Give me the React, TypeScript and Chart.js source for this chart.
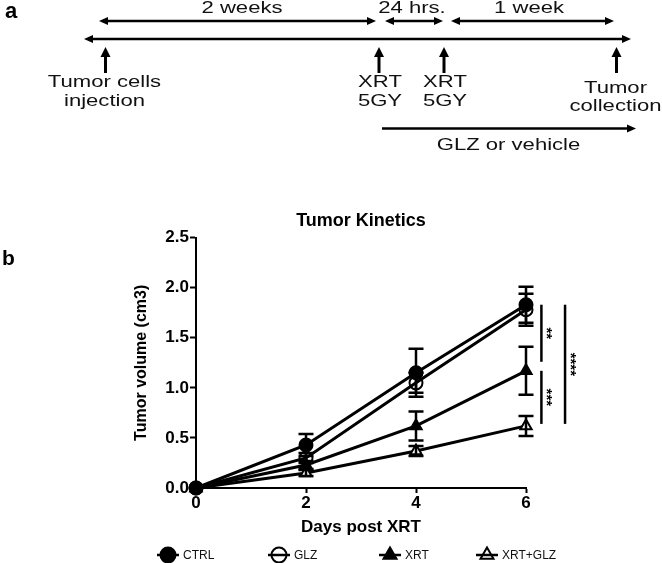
import React, { useEffect, useRef } from 'react';
import { Chart, registerables } from 'chart.js';

Chart.register(...registerables);

// ---------- data ----------
const days = [0, 2, 4, 6];
const seriesLabels = ['CTRL', 'GLZ', 'XRT', 'XRT+GLZ'];
const ctrlMean = [0, 0.43, 1.15, 1.83];
const ctrlErr = [0, 0.11, 0.24, 0.18];
const glzMean = [0, 0.3, 1.05, 1.78];
const glzErr = [0, 0.05, 0.1, 0.16];
const xrtMean = [0, 0.23, 0.62, 1.17];
const xrtErr = [0, 0.04, 0.145, 0.24];
const xrtGlzMean = [0, 0.15, 0.37, 0.62];
const xrtGlzErr = [0, 0.03, 0.05, 0.1];
const yTickStep = 0.5;
const xTickStep = 2;

// significance brackets (day position, from value, to value, label)
const sigLabels = ['**', '***', '****'];
const sigDay = [6.28, 6.28, 6.71];
const sigFrom = [1.83, 1.17, 1.83];
const sigTo = [1.26, 0.64, 0.64];

// panel a texts
const spanLabels = ['2 weeks', '24 hrs.', '1 week'];
const eventLabels = [['Tumor cells', 'injection'], ['XRT', '5GY'], ['XRT', '5GY'], ['Tumor', 'collection']];
const treatmentLabel = 'GLZ or vehicle';
const chartTitle = 'Tumor Kinetics';
const xTitle = 'Days post XRT';
const yTitle = 'Tumor volume (cm3)';

const FF = '"Liberation Sans", Arial, Helvetica, sans-serif';

function stext(ctx: CanvasRenderingContext2D, s: string, cx: number, base: number, font: string, sx: number) {
  ctx.save();
  ctx.font = font;
  ctx.fillStyle = '#111';
  ctx.textAlign = 'center';
  ctx.textBaseline = 'alphabetic';
  ctx.translate(cx, base);
  ctx.scale(sx, 1);
  ctx.fillText(s, 0, 0);
  ctx.restore();
}

function arrowHead(ctx: CanvasRenderingContext2D, x: number, y: number, dir: 'l' | 'r' | 'u', L = 9, W = 4) {
  ctx.beginPath();
  if (dir === 'r') {
    ctx.moveTo(x, y); ctx.lineTo(x - L, y - W); ctx.lineTo(x - L, y + W);
  } else if (dir === 'l') {
    ctx.moveTo(x, y); ctx.lineTo(x + L, y - W); ctx.lineTo(x + L, y + W);
  } else {
    ctx.moveTo(x, y); ctx.lineTo(x - W, y + L); ctx.lineTo(x + W, y + L);
  }
  ctx.closePath();
  ctx.fill();
}

function hArrow(ctx: CanvasRenderingContext2D, x1: number, x2: number, y: number, both: boolean) {
  ctx.beginPath();
  ctx.moveTo(both ? x1 + 4 : x1, y);
  ctx.lineTo(x2 - 4, y);
  ctx.stroke();
  arrowHead(ctx, x2, y, 'r');
  if (both) arrowHead(ctx, x1, y, 'l');
}

function drawMarker(ctx: CanvasRenderingContext2D, style: string, x: number, y: number, r: number, fill: string) {
  ctx.beginPath();
  if (style === 'triangle') {
    let a = 0;
    ctx.moveTo(x + Math.sin(a) * r, y - Math.cos(a) * r);
    a += (2 * Math.PI) / 3;
    ctx.lineTo(x + Math.sin(a) * r, y - Math.cos(a) * r);
    a += (2 * Math.PI) / 3;
    ctx.lineTo(x + Math.sin(a) * r, y - Math.cos(a) * r);
    ctx.closePath();
  } else {
    ctx.arc(x, y, r, 0, Math.PI * 2);
  }
  ctx.fillStyle = fill;
  ctx.fill();
  ctx.stroke();
}

const figurePlugin = {
  id: 'figureExtras',
  afterDatasetsDraw(chart: any) {
    const ctx: CanvasRenderingContext2D = chart.ctx;
    const xs = chart.scales.x;
    const ys = chart.scales.y;
    // error bars
    ctx.save();
    ctx.strokeStyle = '#000';
    ctx.lineWidth = 2.5;
    chart.data.datasets.forEach((ds: any) => {
      ds.data.forEach((p: any, i: number) => {
        const e = ds.errors[i];
        if (!e) return;
        const px = xs.getPixelForValue(p.x);
        const top = ys.getPixelForValue(p.y + e);
        const bot = ys.getPixelForValue(p.y - e);
        ctx.beginPath();
        ctx.moveTo(px, top); ctx.lineTo(px, bot);
        ctx.moveTo(px - 7.5, top); ctx.lineTo(px + 7.5, top);
        ctx.moveTo(px - 7.5, bot); ctx.lineTo(px + 7.5, bot);
        ctx.stroke();
      });
    });
    ctx.restore();
  },
  afterDraw(chart: any) {
    const ctx: CanvasRenderingContext2D = chart.ctx;
    const xs = chart.scales.x;
    const ys = chart.scales.y;
    ctx.save();
    ctx.strokeStyle = '#000';
    ctx.fillStyle = '#000';

    // significance brackets
    ctx.lineWidth = 2.5;
    sigLabels.forEach((lab, i) => {
      const x = xs.getPixelForValue(sigDay[i]);
      const y1 = ys.getPixelForValue(sigFrom[i]);
      const y2 = ys.getPixelForValue(sigTo[i]);
      ctx.beginPath();
      ctx.moveTo(x, y1); ctx.lineTo(x, y2);
      ctx.stroke();
      ctx.save();
      ctx.translate(x + 5, (y1 + y2) / 2);
      ctx.rotate(Math.PI / 2);
      ctx.font = `bold 15px ${FF}`;
      ctx.textAlign = 'center';
      ctx.textBaseline = 'middle';
      ctx.fillStyle = '#000';
      ctx.fillText(lab, 0, 0);
      ctx.restore();
    });

    // legend
    const legX = [168, 279, 390, 487];
    const legY = 555;
    chart.data.datasets.forEach((ds: any, i: number) => {
      const x = legX[i];
      ctx.lineWidth = 2.5;
      ctx.beginPath();
      ctx.moveTo(x - 11, legY); ctx.lineTo(x + 11, legY);
      ctx.stroke();
      ctx.lineWidth = 2;
      drawMarker(ctx, ds.pointStyle, x, legY, 7.5, ds.legendFill);
      ctx.font = `12px ${FF}`;
      ctx.fillStyle = '#111';
      ctx.textAlign = 'left';
      ctx.textBaseline = 'middle';
      ctx.fillText(ds.label, x + 15, legY + 0.5);
    });

    // panel labels
    ctx.fillStyle = '#000';
    ctx.textAlign = 'left';
    ctx.textBaseline = 'alphabetic';
    ctx.font = `bold 22px ${FF}`;
    ctx.fillText('a', 5, 18);
    ctx.font = `bold 21px ${FF}`;
    ctx.fillText('b', 2, 265);

    // panel a timeline
    ctx.lineWidth = 2.5;
    const f = `16px ${FF}`;
    const sx = 1.38;
    // span arrows
    const spans = [[99, 376], [385, 443], [451, 614]];
    const spanCx = [242, 412, 529];
    spans.forEach((s, i) => {
      hArrow(ctx, s[0], s[1], 21, true);
      stext(ctx, spanLabels[i], spanCx[i], 12.5, f, sx);
    });
    // main line
    hArrow(ctx, 84, 631, 39, true);
    // event arrows
    const evX = [105.5, 379, 444, 616.5];
    const evBase = [[87.3, 105.7], [87.3, 105.7], [87.3, 105.7], [93.3, 110.5]];
    const evCx = [104.5, 380, 445, 615.5];
    evX.forEach((x, i) => {
      ctx.lineWidth = 3;
      ctx.beginPath();
      ctx.moveTo(x, 56); ctx.lineTo(x, 73);
      ctx.stroke();
      arrowHead(ctx, x, 47, 'u', 10, 5);
      stext(ctx, eventLabels[i][0], evCx[i], evBase[i][0], f, sx);
      stext(ctx, eventLabels[i][1], evCx[i], evBase[i][1], f, sx);
    });
    ctx.lineWidth = 2.5;
    // treatment arrow
    hArrow(ctx, 382, 636, 128.5, false);
    stext(ctx, treatmentLabel, 508.5, 150, f, sx);

    ctx.restore();
  },
};

const tickFont = { family: FF, size: 17, weight: 'bold' as const };

export default function App() {
  const ref = useRef<HTMLCanvasElement | null>(null);
  useEffect(() => {
    if (!ref.current) return;
    const mk = (label: string, mean: number[], err: number[], style: string, fill: string, legendFill: string) => ({
      label,
      data: days.map((d, i) => ({ x: d, y: mean[i] })),
      errors: err,
      borderColor: '#000',
      backgroundColor: fill,
      legendFill,
      pointStyle: style,
      pointRadius: 6.5,
      pointBorderWidth: 2,
      pointBorderColor: '#000',
      pointBackgroundColor: fill,
      borderWidth: 3,
      tension: 0,
      clip: false,
    });
    const chart = new Chart(ref.current, {
      type: 'line',
      data: {
        datasets: [
          mk(seriesLabels[0], ctrlMean, ctrlErr, 'circle', '#000', '#000'),
          mk(seriesLabels[1], glzMean, glzErr, 'circle', 'rgba(255,255,255,0)', 'rgba(255,255,255,0)'),
          mk(seriesLabels[2], xrtMean, xrtErr, 'triangle', '#000', '#000'),
          mk(seriesLabels[3], xrtGlzMean, xrtGlzErr, 'triangle', '#fff', 'rgba(255,255,255,0)'),
        ] as any,
      },
      options: {
        responsive: false,
        animation: false,
        devicePixelRatio: 1,
        layout: { padding: { top: 200, left: 130, right: 136, bottom: 25 } },
        plugins: {
          legend: { display: false },
          tooltip: { enabled: false },
          title: {
            display: true,
            fullSize: false,
            text: chartTitle,
            color: '#000',
            font: { family: FF, size: 18, weight: 'bold' },
            padding: { top: 10, bottom: 6 },
          },
        },
        scales: {
          x: {
            type: 'linear',
            min: 0,
            max: 6,
            ticks: { stepSize: xTickStep, color: '#000', font: tickFont, padding: 0 },
            grid: { drawOnChartArea: false, drawTicks: true, tickLength: 5, tickColor: '#000', tickWidth: 2 },
            border: { color: '#000', width: 2 },
            title: { display: true, text: xTitle, color: '#000', font: { family: FF, size: 17, weight: 'bold' }, padding: { top: 0, bottom: 0 } },
            afterFit: (s: any) => { s.height = 50; },
          },
          y: {
            min: 0,
            max: 2.5,
            ticks: {
              stepSize: yTickStep,
              color: '#000',
              font: tickFont,
              padding: 1,
              callback: (v: any) => Number(v).toFixed(1),
            },
            grid: { drawOnChartArea: false, drawTicks: true, tickLength: 6, tickColor: '#000', tickWidth: 2 },
            border: { color: '#000', width: 2 },
            title: { display: true, text: yTitle, color: '#000', font: { family: FF, size: 16, weight: 'bold' }, padding: { top: 2, bottom: 0 } },
            afterFit: (s: any) => { s.width = 66; },
          },
        },
      } as any,
      plugins: [figurePlugin],
    });
    return () => chart.destroy();
  }, []);
  return (
    <div style={{ position: 'fixed', left: 0, top: 0, width: 662, height: 563, background: '#fff' }}>
      <canvas ref={ref} width={662} height={563} style={{ display: 'block', width: 662, height: 563 }} />
    </div>
  );
}
